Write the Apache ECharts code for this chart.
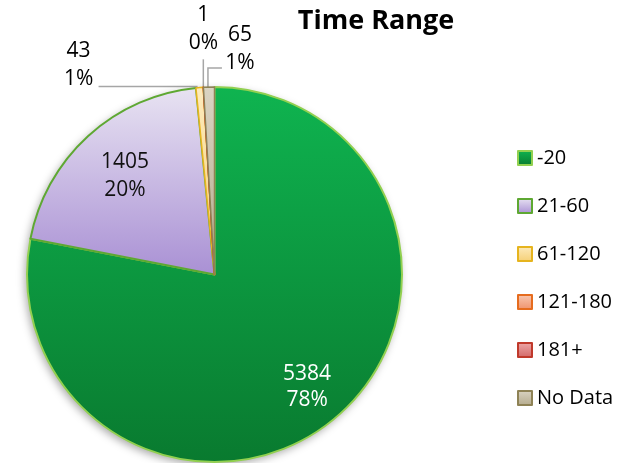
<!DOCTYPE html>
<html>
<head>
<meta charset="utf-8">
<script src="https://cdn.jsdelivr.net/npm/echarts@6/dist/echarts.min.js"></script>
<style>html,body{margin:0;padding:0;background:#fff}#c{width:633px;height:463px}</style>
</head>
<body>
<div id="c"></div>
<script>
var categories = ['-20', '21-60', '61-120', '121-180', '181+', 'No Data'];
var counts = [5384, 1405, 43, 1, 0, 65];
var fillTop = ['#0fb450', '#e8e3f2', '#fdebbd', '#f9c9b2', '#eeaaaa', '#dad4c3'];
var fillBottom = ['#097a2f', '#a990d4', '#f5cf74', '#ef916b', '#d26666', '#b4aa8c'];
var borders = ['#92d050', '#5ea832', '#e6b41e', '#e66c1e', '#c0392b', '#8e8255'];

function grad(i) {
  return { type: 'linear', x: 0, y: 0, x2: 0, y2: 1, global: false,
    colorStops: [{ offset: 0, color: fillTop[i] }, { offset: 1, color: fillBottom[i] }] };
}

var FONT = 'Open Sans';
var CENTER = [214.5, 274.5];
var R = 187.5;

var mainData = categories.map(function (n, i) {
  var outside = (i === 2 || i === 3 || i === 5);
  return {
    name: n, value: counts[i],
    itemStyle: { color: grad(i), borderColor: borders[i], borderWidth: i < 2 ? 2 : 1.5 },
    label: { show: outside },
    labelLine: { show: outside }
  };
});

function labelData(showIdx) {
  return categories.map(function (n, i) {
    return { name: n, value: counts[i], label: { show: i === showIdx } };
  });
}

var chart = echarts.init(document.getElementById('c'), null, { renderer: 'canvas' });
chart.setOption({
  animation: false,
  title: {
    text: 'Time Range', left: 371, top: 3, textAlign: 'center',
    textStyle: { fontFamily: FONT, fontWeight: 'bold', fontSize: 27, color: '#000' }
  },
  legend: {
    orient: 'vertical', left: 512, top: 143,
    itemWidth: 14, itemHeight: 14, itemGap: 28,
    icon: 'rect',
    data: categories,
    textStyle: { fontFamily: FONT, fontSize: 20, color: '#000' }
  },
  series: [
    {
      type: 'pie', silent: true, center: CENTER, radius: R,
      data: [{ value: 1, name: '' }],
      itemStyle: { color: '#ffffff', shadowBlur: 9, shadowColor: 'rgba(0,0,0,0.35)', shadowOffsetX: -2, shadowOffsetY: 3 },
      label: { show: false }, labelLine: { show: false }
    },
    {
      type: 'pie', center: CENTER, radius: R, startAngle: 90, clockwise: true,
      percentPrecision: 0, avoidLabelOverlap: false,
      data: mainData,
      label: {
        position: 'outside', formatter: '{c}\n{d}%', fontFamily: FONT, fontSize: 21,
        lineHeight: 28, color: '#000'
      },
      labelLine: { length: 5, length2: 5, lineStyle: { color: '#a6a6a6', width: 1.5 } },
      labelLayout: function (p) {
        var pts = p.labelLinePoints;
        if (!pts) return {};
        var s = pts[0];
        if (p.dataIndex === 2) {
          return { x: s[0] - 121, y: s[1] + 5, align: 'center', verticalAlign: 'bottom',
            labelLinePoints: [[s[0] - 2, s[1] - 1], [s[0] - 3, s[1] - 1], [s[0] - 101, s[1] - 1]] };
        }
        if (p.dataIndex === 3) {
          return { x: s[0], y: s[1] - 30, align: 'center', verticalAlign: 'bottom',
            labelLinePoints: [[s[0], s[1]], [s[0], s[1] - 28], [s[0], s[1] - 28]] };
        }
        if (p.dataIndex === 5) {
          return { x: s[0] + 31, y: s[1] - 10, align: 'center', verticalAlign: 'bottom',
            labelLinePoints: [[s[0] - 1, s[1]], [s[0] - 1, s[1] - 19], [s[0] + 13, s[1] - 19]] };
        }
        return {};
      },
      emphasis: { scale: false }
    },
    {
      type: 'pie', silent: true, center: CENTER, radius: [0.52 * R, R], startAngle: 90, clockwise: true,
      percentPrecision: 0, data: labelData(0),
      itemStyle: { color: 'rgba(0,0,0,0)' },
      label: { position: 'inside', formatter: '{c}\n{d}%', fontFamily: FONT, fontSize: 21, lineHeight: 26, color: '#ffffff' },
      labelLine: { show: false }
    },
    {
      type: 'pie', silent: true, center: CENTER, radius: [72.5, R], startAngle: 90, clockwise: true,
      percentPrecision: 0, data: labelData(1),
      itemStyle: { color: 'rgba(0,0,0,0)' },
      label: { position: 'inside', formatter: '{c}\n{d}%', fontFamily: FONT, fontSize: 21, lineHeight: 28, color: '#111111' },
      labelLine: { show: false }
    }
  ]
});
</script>
</body>
</html>
